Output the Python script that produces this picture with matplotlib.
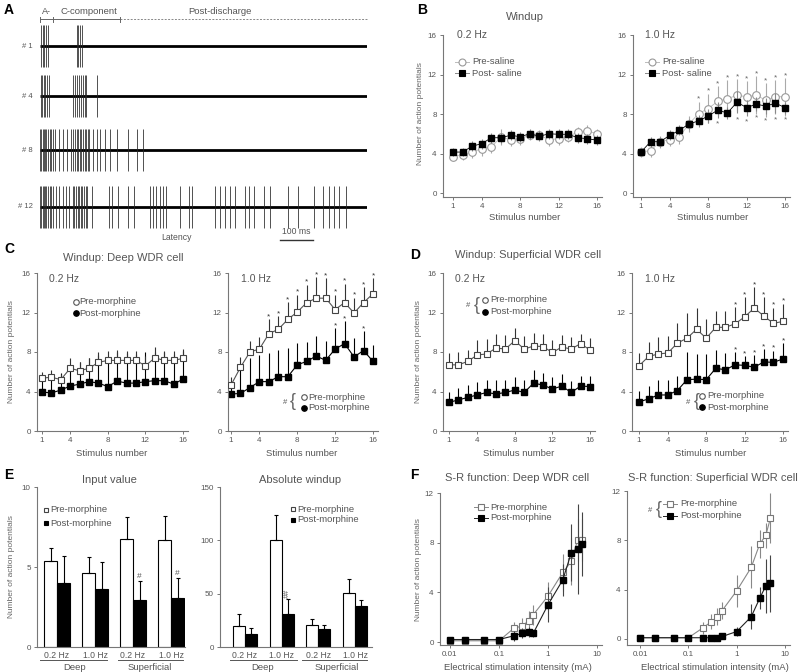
import matplotlib
matplotlib.use('Agg')
import matplotlib.pyplot as plt
from matplotlib.lines import Line2D
from matplotlib.ticker import NullLocator

plt.rcParams['font.family'] = ['Liberation Sans', 'DejaVu Sans']
plt.rcParams['axes.linewidth'] = 0.8

# ---------------- data ----------------
# A: spike times (ms) of the example traces
trace_labels = ['# 1', '# 4', '# 8', '# 12']
spikes_1 = [3, 8, 13, 18, 24, 115, 120, 125, 131]
spikes_4 = [2, 7, 12, 17, 22, 28, 103, 109, 115, 121, 127, 133, 139, 145, 177]
spikes_8 = [0, 4, 8, 12, 16, 20, 25, 30, 35, 40,
            47, 60, 73, 83, 96,
            104, 109, 114, 119, 124, 129, 134, 139, 144, 149, 154,
            165, 177, 188, 203, 219, 240, 276, 302, 321]
spikes_12 = [0, 4, 8, 12, 16, 20, 25, 30, 35, 40,
             50, 60, 71, 81, 92,
             102, 107, 112, 117, 122, 127, 132, 137, 142, 147,
             161, 214, 224, 242, 276, 292, 342, 352, 362, 375, 385, 393,
             438, 464, 474, 547, 563, 578, 594, 609, 641, 651, 669, 698,
             717, 773, 805, 854, 883, 901, 917, 932, 953]

stim = list(range(1, 17))
stim_ticks = [1, 4, 8, 12, 16]

# B: saline
b02_pre = [3.7, 3.9, 4.15, 4.5, 4.65, 5.7, 5.35, 5.5, 5.85, 5.85, 5.4, 5.5, 5.7, 6.2, 6.3, 6.0]
b02_pre_err = [0.5, 0.6, 0.6, 0.7, 0.6, 0.8, 0.6, 0.6, 0.5, 0.5, 0.6, 0.6, 0.5, 0.5, 0.6, 0.5]
b02_post = [4.15, 4.15, 4.75, 5.0, 5.6, 5.6, 5.85, 5.7, 6.0, 5.75, 6.0, 5.95, 5.95, 5.6, 5.5, 5.35]
b02_post_err = [0.4, 0.4, 0.5, 0.5, 0.5, 0.5, 0.5, 0.5, 0.5, 0.5, 0.5, 0.5, 0.5, 0.5, 0.5, 0.5]
b10_pre = [4.15, 4.3, 5.2, 5.4, 5.7, 7.0, 8.05, 8.55, 9.3, 9.55, 9.9, 9.75, 9.9, 9.4, 9.75, 9.75]
b10_pre_err = [0.5, 0.6, 0.6, 0.6, 0.7, 0.8, 1.2, 1.5, 1.5, 1.9, 1.6, 1.6, 1.9, 1.7, 1.7, 1.9]
b10_post = [4.15, 5.2, 5.2, 5.85, 6.35, 7.0, 7.3, 7.8, 8.4, 8.1, 9.2, 8.65, 9.0, 8.8, 9.1, 8.65]
b10_post_err = [0.4, 0.5, 0.5, 0.5, 0.5, 0.5, 0.6, 0.7, 0.8, 0.6, 1.1, 0.8, 0.7, 0.8, 1.0, 0.6]
b10_pre_star = [7, 8, 9, 10, 11, 12, 13, 14, 15, 16]
b10_post_star = [9, 11, 12, 13, 14, 15, 16]

# C: deep WDR, morphine
c02_pre = [5.35, 5.45, 5.2, 6.35, 6.1, 6.35, 6.95, 7.15, 7.15, 7.15, 7.15, 6.6, 7.4, 7.15, 7.15, 7.35]
c02_pre_err = [0.6, 0.7, 0.6, 1.0, 0.9, 1.0, 1.0, 1.0, 1.1, 1.0, 1.0, 1.0, 1.1, 1.0, 1.0, 1.0]
c02_post = [3.95, 3.85, 4.15, 4.55, 4.75, 5.0, 4.85, 4.5, 5.05, 4.85, 4.85, 5.0, 5.1, 5.1, 4.75, 5.25]
c02_post_err = [1.5, 1.6, 1.7, 2.0, 2.2, 2.4, 2.8, 2.9, 2.9, 3.0, 2.9, 3.0, 2.9, 2.9, 3.0, 2.9]
c10_pre = [4.65, 6.45, 8.0, 8.3, 9.85, 10.3, 11.3, 12.05, 13.0, 13.45, 13.45, 12.3, 13.0, 11.95, 13.0, 13.9]
c10_pre_err = [0.85, 1.0, 1.1, 1.2, 1.45, 1.3, 1.75, 1.75, 1.8, 2.15, 2.0, 1.5, 1.9, 1.55, 1.55, 1.6]
c10_post = [3.75, 3.8, 4.4, 5.0, 5.0, 5.5, 5.5, 6.7, 7.05, 7.6, 7.15, 8.3, 8.85, 7.5, 8.15, 7.05]
c10_post_err = [1.1, 2.7, 3.0, 2.7, 2.9, 2.7, 2.9, 2.2, 2.0, 2.0, 1.95, 2.1, 2.25, 1.9, 1.95, 1.65]
c10_pre_star = [5, 6, 7, 8, 9, 10, 11, 12, 13, 14, 15, 16]
c10_post_star = [12, 13, 15]

# D: superficial WDR, morphine
d02_pre = [6.7, 6.7, 7.05, 7.7, 7.8, 8.4, 8.3, 9.15, 8.3, 8.6, 8.55, 7.95, 8.5, 8.3, 8.85, 8.2]
d02_pre_err = [1.2, 1.3, 1.2, 1.5, 1.5, 1.4, 1.4, 1.3, 1.3, 1.3, 1.3, 1.3, 1.2, 1.2, 1.0, 1.2]
d02_post = [2.9, 3.15, 3.4, 3.65, 3.9, 3.75, 3.9, 4.15, 3.9, 4.85, 4.65, 4.25, 4.55, 3.9, 4.55, 4.5]
d02_post_err = [1.1, 1.2, 1.3, 1.3, 1.3, 1.4, 1.3, 1.3, 1.3, 1.3, 1.2, 1.2, 1.2, 1.2, 1.0, 1.1]
d10_pre = [6.6, 7.55, 7.8, 7.9, 8.9, 9.4, 10.3, 9.4, 10.5, 10.5, 10.85, 11.55, 12.45, 11.65, 10.9, 11.1]
d10_pre_err = [1.3, 1.5, 1.7, 1.7, 2.0, 2.6, 2.2, 1.9, 1.7, 1.7, 1.7, 2.0, 2.1, 1.9, 1.6, 1.8]
d10_post = [2.95, 3.25, 3.65, 3.65, 4.1, 5.2, 5.25, 5.2, 6.35, 6.2, 6.7, 6.65, 6.45, 7.0, 6.95, 7.3]
d10_post_err = [1.1, 1.3, 1.5, 1.5, 1.5, 2.8, 2.5, 2.6, 1.9, 1.7, 1.3, 0.9, 1.2, 1.3, 1.2, 1.6]
d10_pre_star = [11, 12, 13, 14, 15, 16]
d10_post_star = [11, 12, 13, 14, 15, 16]

# E: bars
e_groups = ['0.2 Hz', '1.0 Hz', '0.2 Hz', '1.0 Hz']
e_input_pre = [5.4, 4.65, 6.75, 6.7]
e_input_pre_err = [0.8, 0.95, 1.35, 1.5]
e_input_post = [4.0, 3.65, 2.95, 3.05]
e_input_post_err = [1.7, 1.65, 1.15, 1.25]
e_abs_pre = [20, 100, 21, 51]
e_abs_pre_err = [11, 24, 5, 13]
e_abs_post = [12, 31, 17, 38]
e_abs_post_err = [6, 14, 4, 6]

# F: stimulus-response
f_int = [0.01, 0.02, 0.05, 0.1, 0.2, 0.3, 0.4, 0.5, 1, 2, 3, 4, 5]
f_deep_pre = [0.1, 0.1, 0.1, 0.1, 1.1, 1.3, 1.7, 2.2, 3.7, 5.6, 6.5, 8.2, 8.2]
f_deep_pre_err = [0.1, 0.1, 0.1, 0.1, 0.5, 0.6, 0.8, 0.8, 1.1, 1.5, 1.9, 1.7, 1.7]
f_deep_post = [0.2, 0.2, 0.2, 0.2, 0.5, 0.7, 0.8, 0.7, 3.0, 5.0, 7.2, 7.5, 7.9]
f_deep_post_err = [0.1, 0.1, 0.1, 0.1, 0.4, 0.4, 0.4, 0.3, 1.4, 1.3, 2.3, 3.6, 2.6]
f_sup_pre = [0.1, 0.1, 0.1, 0.1, 0.9, 1.4, 1.8, 2.3, 3.9, 5.8, 7.7, 8.4, 9.8]
f_sup_pre_err = [0.1, 0.1, 0.1, 0.1, 0.5, 0.6, 0.7, 0.7, 1.3, 1.7, 1.1, 1.0, 2.0]
f_sup_post = [0.1, 0.1, 0.1, 0.1, 0.1, 0.1, 0.1, 0.2, 0.6, 1.8, 3.3, 4.3, 4.5]
f_sup_post_err = [0.1, 0.1, 0.1, 0.1, 0.1, 0.1, 0.2, 0.2, 0.4, 1.0, 0.9, 2.2, 2.3]

# ---------------- helpers ----------------
W, H = 800, 672
TXT = '#555555'
AXC = '#777777'

fig = plt.figure(figsize=(8, 6.72), dpi=100)


def fx(x):
    return x / W


def fy(y):
    return 1 - y / H


def ftext(x, y, s, **kw):
    kw.setdefault('va', 'center')
    kw.setdefault('color', TXT)
    fig.text(fx(x), fy(y), s, **kw)


def add_ax(x0, y0, x1, y1):
    ax = fig.add_axes([fx(x0), fy(y1), (x1 - x0) / W, (y1 - y0) / H])
    for s in ['top', 'right']:
        ax.spines[s].set_visible(False)
    for s in ['left', 'bottom']:
        ax.spines[s].set_color(AXC)
    ax.tick_params(colors=AXC, labelcolor=TXT, labelsize=5.8, length=2.5, width=0.7, pad=2)
    return ax


def windup_ax(spine, p1, p16, top, bottom, ybot=0):
    scale = (p16 - p1) / 15
    ax = add_ax(spine, top, p16 + 5, bottom)
    ax.set_xlim(1 - (p1 - spine) / scale, 16 + 5 / scale)
    ax.set_ylim(ybot, 16)
    ax.set_xticks(stim_ticks)
    ax.set_yticks([0, 4, 8, 12, 16])
    return ax


def leg(xm, y, xl, label, marker, mfc, mec, line=None, ms=4.5):
    if line:
        fig.add_artist(Line2D([fx(xm - 7), fx(xm + 7)], [fy(y), fy(y)], color=line, lw=0.7))
    fig.add_artist(Line2D([fx(xm)], [fy(y)], marker=marker, ms=ms, mfc=mfc, mec=mec,
                          mew=0.8, ls='none'))
    ftext(xl, y, label, fontsize=6.8)


def brace(xh, xb, y):
    ftext(xh, y, '#', fontsize=5.5)
    ftext(xb, y, '{', fontsize=13, color='#666')


def windup(ax, pre, pre_err, post, post_err, pre_star=(), post_star=()):
    z = [0] * len(stim)
    ax.errorbar(stim, post, yerr=[z, post_err], fmt='-s', color='black', ms=4.2,
                mfc='black', mec='black', lw=0.8, ecolor='black', elinewidth=0.8,
                capsize=0, zorder=2)
    ax.errorbar(stim, pre, yerr=[z, pre_err], fmt='-s', color='#555555', ms=4.2,
                mfc='white', mec='#444444', mew=0.8, lw=0.8, ecolor='#333333',
                elinewidth=0.8, capsize=0, zorder=3)
    for s in pre_star:
        ax.text(s, pre[s - 1] + pre_err[s - 1] - 0.1, '*', ha='center', va='bottom',
                fontsize=6, color='#333')
    for s in post_star:
        ax.text(s, post[s - 1] + post_err[s - 1] - 0.1, '*', ha='center', va='bottom',
                fontsize=6, color='#333')


def saline(ax, pre, pre_err, post, post_err, pre_star=(), post_star=()):
    ax.errorbar(stim, post, yerr=post_err, fmt='-s', color='black', ms=5, mfc='black',
                mec='black', lw=0.6, ecolor='#888888', elinewidth=0.8, capsize=0, zorder=3)
    ax.errorbar(stim, pre, yerr=pre_err, fmt='-o', color='#bbbbbb', ms=5.5, mfc='white',
                mec='#999999', mew=0.8, lw=0.6, ecolor='#aaaaaa', elinewidth=0.8,
                capsize=0, zorder=2)
    for s in pre_star:
        ax.text(s, pre[s - 1] + pre_err[s - 1] - 0.1, '*', ha='center', va='bottom',
                fontsize=6, color='#666')
    for s in post_star:
        ax.text(s, post[s - 1] - post_err[s - 1] - 1.0, '*', ha='center', va='bottom',
                fontsize=6, color='#666')


# ---------------- A ----------------
axA = fig.add_axes([fx(40), fy(250), (367 - 40) / W, 250 / H])
axA.set_xlim(0, 1020)
axA.set_ylim(250, 0)
axA.axis('off')
row_y = [46, 96, 150, 207]
for y0, lab, sp in zip(row_y, trace_labels, [spikes_1, spikes_4, spikes_8, spikes_12]):
    axA.plot([0, 1020], [y0, y0], color='black', lw=2.0, solid_capstyle='butt')
    axA.vlines(sp, y0 - 21, y0 + 21, color='#222222', lw=0.55)
    axA.text(-22, y0, lab, ha='right', va='center', fontsize=5.5, color=TXT, clip_on=False)
axA.plot([0, 250], [19, 19], color='#666', lw=0.7, clip_on=False)
axA.plot([250, 1020], [19, 19], color='#888', lw=0.7, ls=(0, (2, 1.5)), clip_on=False)
for t in [0, 40, 250]:
    axA.plot([t, t], [17, 22], color='#666', lw=0.7, clip_on=False)
axA.text(19, 11, 'A-', ha='center', va='center', fontsize=6.5, color=TXT)
axA.text(153, 11, 'C-component', ha='center', va='center', fontsize=6.8, color=TXT)
axA.text(562, 11, 'Post-discharge', ha='center', va='center', fontsize=6.8, color=TXT)
axA.text(425, 238, 'Latency', ha='center', va='center', fontsize=6.2, color=TXT)
axA.plot([750, 850], [240, 240], color='#333', lw=1.0)
axA.text(800, 232, '100 ms', ha='center', va='center', fontsize=6.2, color=TXT)

# ---------------- B ----------------
axB1 = windup_ax(443, 453, 597, 35, 197, ybot=-0.4)
axB2 = windup_ax(633, 641, 785, 35, 197, ybot=-0.4)
saline(axB1, b02_pre, b02_pre_err, b02_post, b02_post_err)
saline(axB2, b10_pre, b10_pre_err, b10_post, b10_post_err, b10_pre_star, b10_post_star)
ftext(525, 17, 'Windup', fontsize=8, ha='center')
ftext(457, 35, '0.2 Hz', fontsize=7.5)
ftext(645, 35, '1.0 Hz', fontsize=7.5)
for xm, xl in [(462, 472), (652, 662)]:
    leg(xm, 62, xl, 'Pre-saline', 'o', 'white', '#999', line='#bbb', ms=5)
    leg(xm, 73, xl, 'Post- saline', 's', 'black', 'black', line='#888', ms=4.5)
ftext(525, 217, 'Stimulus number', fontsize=6.8, ha='center')
ftext(713, 217, 'Stimulus number', fontsize=6.8, ha='center')
ftext(421, 114, 'Number of action potentials', fontsize=6, ha='center', rotation=90, color='#666')

# ---------------- C ----------------
axC1 = windup_ax(37, 42, 183, 273, 431)
axC2 = windup_ax(228, 231, 373, 273, 431)
windup(axC1, c02_pre, c02_pre_err, c02_post, c02_post_err)
windup(axC2, c10_pre, c10_pre_err, c10_post, c10_post_err, c10_pre_star, c10_post_star)
ftext(123, 258, 'Windup: Deep WDR cell', fontsize=8, ha='center')
ftext(49, 279, '0.2 Hz', fontsize=7.5)
ftext(241, 279, '1.0 Hz', fontsize=7.5)
leg(76, 302, 79, 'Pre-morphine', 'o', 'white', '#555', ms=4)
leg(76, 313, 79, 'Post-morphine', 'o', 'black', 'black', ms=4)
brace(283, 290, 402)
leg(304, 397, 308, 'Pre-morphine', 'o', 'white', '#555', ms=4)
leg(304, 408, 308, 'Post-morphine', 'o', 'black', 'black', ms=4)
ftext(112, 453, 'Stimulus number', fontsize=6.8, ha='center')
ftext(302, 453, 'Stimulus number', fontsize=6.8, ha='center')
ftext(12, 352, 'Number of action potentials', fontsize=6, ha='center', rotation=90, color='#666')

# ---------------- D ----------------
axD1 = windup_ax(443, 449, 590, 273, 431)
axD2 = windup_ax(632, 639, 783, 273, 431)
windup(axD1, d02_pre, d02_pre_err, d02_post, d02_post_err)
windup(axD2, d10_pre, d10_pre_err, d10_post, d10_post_err, d10_pre_star, d10_post_star)
ftext(455, 255, 'Windup: Superficial WDR cell', fontsize=8)
ftext(455, 279, '0.2 Hz', fontsize=7.5)
ftext(645, 279, '1.0 Hz', fontsize=7.5)
brace(466, 474, 306)
leg(485, 300, 490, 'Pre-morphine', 'o', 'white', '#555', ms=4)
leg(485, 312, 490, 'Post-morphine', 'o', 'black', 'black', ms=4)
brace(686, 694, 402)
leg(702, 396, 707, 'Pre-morphine', 'o', 'white', '#555', ms=4)
leg(702, 407, 707, 'Post-morphine', 'o', 'black', 'black', ms=4)
ftext(519, 453, 'Stimulus number', fontsize=6.8, ha='center')
ftext(711, 453, 'Stimulus number', fontsize=6.8, ha='center')
ftext(418, 352, 'Number of action potentials', fontsize=6, ha='center', rotation=90, color='#666')

# ---------------- E ----------------
def bars(ax, pre, pre_err, post, post_err, width):
    pos = [1, 2, 3, 4]
    zero = [0] * 4
    xp = [p - width / 2 for p in pos]
    xq = [p + width / 2 for p in pos]
    ax.bar(xp, pre, width, color='white', edgecolor='black', lw=0.8,
           yerr=[zero, pre_err], error_kw=dict(elinewidth=0.8, capsize=1.5, capthick=0.8))
    ax.bar(xq, post, width, color='black', edgecolor='black', lw=0.8,
           yerr=[zero, post_err], error_kw=dict(elinewidth=0.8, capsize=1.5, capthick=0.8))
    ax.set_xticks(pos)
    ax.set_xticklabels(e_groups, fontsize=6.2)
    ax.tick_params(axis='x', length=0, pad=3)
    return xq


axE1 = add_ax(37, 487, 185, 647)
axE1.set_xlim(1 - 20 / 38, 4 + 14 / 38)
axE1.set_ylim(0, 10)
axE1.set_yticks([0, 5, 10])
xq = bars(axE1, e_input_pre, e_input_pre_err, e_input_post, e_input_post_err, 13 / 38)
for i in [2, 3]:
    axE1.text(xq[i], e_input_post[i] + e_input_post_err[i] + 0.1, '#', ha='center',
              va='bottom', fontsize=6, color='#555')

axE2 = add_ax(220, 487, 372, 647)
axE2.set_xlim(1 - 25 / 36.7, 4 + 17 / 36.7)
axE2.set_ylim(0, 150)
axE2.set_yticks([0, 50, 100, 150])
xq2 = bars(axE2, e_abs_pre, e_abs_pre_err, e_abs_post, e_abs_post_err, 12 / 36.7)
axE2.text(xq2[1], e_abs_post[1] + e_abs_post_err[1] + 1, '##', ha='center', va='bottom',
          fontsize=6, color='#555', rotation=90)

ftext(109, 480, 'Input value', fontsize=8, ha='center')
ftext(300, 480, 'Absolute windup', fontsize=8, ha='center')
leg(46, 510, 50, 'Pre-morphine', 's', 'white', '#444', ms=3.5)
leg(46, 523, 50, 'Post-morphine', 's', 'black', 'black', ms=3.5)
leg(293, 509, 297, 'Pre-morphine', 's', 'white', '#444', ms=3.5)
leg(293, 520, 297, 'Post-morphine', 's', 'black', 'black', ms=3.5)
for x0, x1 in [(40, 107), (118, 183), (230, 297), (302, 367)]:
    fig.add_artist(Line2D([fx(x0), fx(x1)], [fy(660), fy(660)], color='#555', lw=0.7))
for x, s in [(75, 'Deep'), (150, 'Superficial'), (263, 'Deep'), (337, 'Superficial')]:
    ftext(x, 667, s, fontsize=6.8, ha='center')
ftext(12, 567, 'Number of action potentials', fontsize=6, ha='center', rotation=90, color='#666')

# ---------------- F ----------------
def sr(ax, pre, pre_err, post, post_err):
    ax.errorbar(f_int, pre, yerr=pre_err, fmt='-s', color='#888888', ms=4.5, mfc='white',
                mec='#777777', mew=0.8, lw=0.8, ecolor='#888888', elinewidth=0.8,
                capsize=0, zorder=2)
    ax.errorbar(f_int, post, yerr=post_err, fmt='-s', color='#222222', ms=4.5,
                mfc='black', mec='black', lw=0.8, ecolor='#444444', elinewidth=0.8,
                capsize=0, zorder=3)
    ax.set_xscale('log')
    ax.set_xticks([0.01, 0.1, 1, 10])
    ax.set_xticklabels(['0.01', '0.1', '1', '10'])
    ax.xaxis.set_minor_locator(NullLocator())
    ax.set_yticks([0, 4, 8, 12])


axF1 = add_ax(440, 493, 602, 645)
sr(axF1, f_deep_pre, f_deep_pre_err, f_deep_post, f_deep_post_err)
axF1.set_xlim(10 ** (-2 - 10 / 49), 10 ** (1 + 5 / 49))
axF1.set_ylim(-0.24, 12)

axF2 = add_ax(627, 491, 790, 645)
sr(axF2, f_sup_pre, f_sup_pre_err, f_sup_post, f_sup_post_err)
axF2.set_xlim(10 ** (-2 - 13 / 48.3), 10 ** (1 + 5 / 48.3))
axF2.set_ylim(-0.49, 12)

ftext(517, 478, 'S-R function: Deep WDR cell', fontsize=8, ha='center')
ftext(628, 478, 'S-R function: Superficial WDR cell', fontsize=8)
leg(481, 507, 490, 'Pre-morphine', 's', 'white', '#777', line='#888', ms=4)
leg(481, 518, 490, 'Post-morphine', 's', 'black', 'black', line='#222', ms=4)
brace(648, 656, 510)
leg(670, 504, 680, 'Pre-morphine', 's', 'white', '#777', line='#888', ms=4)
leg(670, 516, 680, 'Post-morphine', 's', 'black', 'black', line='#222', ms=4)
ftext(518, 668, 'Electrical stimulation intensity (mA)', fontsize=6.8, ha='center')
ftext(715, 668, 'Electrical stimulation intensity (mA)', fontsize=6.8, ha='center')
ftext(418, 570, 'Number of action potentials', fontsize=6, ha='center', rotation=90, color='#666')

# ---------------- panel letters ----------------
for x, y, s in [(4, 10, 'A'), (417, 10, 'B'), (4, 249, 'C'), (410, 255, 'D'),
                (4, 475, 'E'), (410, 475, 'F')]:
    ftext(x, y, s, fontsize=10, fontweight='bold', color='black')

fig.savefig('out.png', dpi=100)
